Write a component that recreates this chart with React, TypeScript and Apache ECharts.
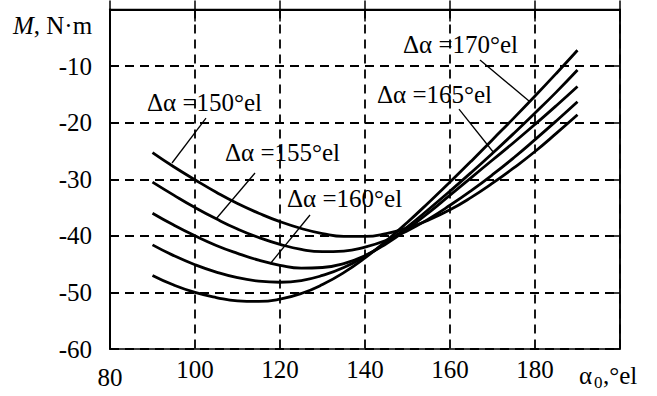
import React, { useEffect, useRef } from "react";
import * as echarts from "echarts";

const xValues = [90, 95, 100, 105, 110, 115, 120, 125, 130, 135, 140, 145, 150, 155, 160, 165, 170, 175, 180, 185, 190];
const curve150 = [-25.3, -27.8, -30.1, -32.3, -34.3, -36.0, -37.5, -38.7, -39.6, -40.1, -40.1, -39.6, -38.6, -37.2, -35.4, -33.2, -30.7, -28.0, -25.1, -21.9, -18.6];
const curve155 = [-30.5, -32.8, -35.0, -37.0, -38.8, -40.3, -41.5, -42.4, -42.8, -42.7, -42.0, -40.8, -39.1, -37.0, -34.6, -32.0, -29.2, -26.2, -23.0, -19.7, -16.3];
const curve160 = [-36.0, -38.1, -40.0, -41.7, -43.1, -44.3, -45.2, -45.7, -45.6, -44.9, -43.5, -41.4, -38.8, -35.9, -32.8, -29.7, -26.6, -23.5, -20.3, -17.0, -13.6];
const curve165 = [-41.6, -43.5, -45.1, -46.4, -47.4, -48.0, -48.2, -47.9, -47.0, -45.6, -43.6, -41.2, -38.4, -35.3, -32.1, -28.8, -25.4, -21.9, -18.3, -14.6, -10.7];
const curve170 = [-47.0, -48.7, -50.0, -50.9, -51.5, -51.6, -51.2, -50.2, -48.6, -46.5, -43.9, -40.9, -37.6, -34.1, -30.5, -26.8, -23.0, -19.2, -15.3, -11.3, -7.2];
const seriesList = [curve150, curve155, curve160, curve165, curve170];

const xTickLabels = ["80", "100", "120", "140", "160", "180"];
const yTickLabels = ["-60", "-50", "-40", "-30", "-20", "-10"];

const labelTexts = ["Δα =150°el", "Δα =155°el", "Δα =160°el", "Δα =165°el", "Δα =170°el"];
// label anchor (left-middle) in data coords
const labelAnchors = [
  [88.7, -16.35],
  [107.06, -25.19],
  [121.65, -33.49],
  [142.82, -15.11],
  [148.94, -6.27],
];
// leader lines in data coords [from, to]
const leaders = [
  [[102.59, -19.18], [94.59, -27.13]],
  [[114.12, -28.9], [104.94, -37.03]],
  [[127.06, -36.32], [117.65, -44.98]],
  [[162.12, -17.59], [170.35, -25.36]],
  [[167.06, -8.93], [178.59, -16.17]],
];

const FONT = "Liberation Serif";
const FS = 25;

export default function App() {
  const ref = useRef<HTMLDivElement>(null);
  useEffect(() => {
    const chart = echarts.init(ref.current!, undefined, { renderer: "svg" });
    const gridLine = { show: true, lineStyle: { color: "#000", width: 1.8, type: [9, 6] as any } };
    const option: any = {
      animation: false,
      textStyle: { fontFamily: FONT },
      grid: {
        left: 110,
        right: 37,
        top: 9.5,
        bottom: 47,
        show: true,
        borderColor: "#000",
        borderWidth: 1.5,
        backgroundColor: "transparent",
      },
      xAxis: [
        {
          type: "value",
          min: 80,
          max: 200,
          interval: 20,
          position: "bottom",
          axisLine: { show: true, lineStyle: { color: "#000", width: 2 } },
          axisTick: { show: true, inside: true, length: 9, lineStyle: { color: "#000", width: 1.5 } },
          axisLabel: {
            color: "#000",
            fontFamily: FONT,
            fontSize: FS,
            margin: 8,
            formatter: (v: number) => {
              const s = String(v);
              if (!xTickLabels.includes(s)) return "";
              return s === "80" ? "{low|" + s + "}" : s;
            },
            rich: { low: { fontFamily: FONT, fontSize: FS, color: "#000", padding: [8, 0, 0, 0] } },
          },
          splitLine: gridLine,
        },
        {
          type: "value",
          min: 80,
          max: 200,
          interval: 20,
          position: "top",
          axisLine: { show: true, lineStyle: { color: "#000", width: 1.5 } },
          axisTick: { show: true, inside: true, length: 12, lineStyle: { color: "#000", width: 1.5 } },
          axisLabel: { show: false },
          splitLine: { show: false },
        },
      ],
      yAxis: [
        {
          type: "value",
          min: -60,
          max: 0,
          interval: 10,
          position: "left",
          axisLine: { show: true, lineStyle: { color: "#000", width: 2 } },
          axisTick: { show: true, inside: true, length: 9, lineStyle: { color: "#000", width: 1.5 } },
          axisLabel: {
            color: "#000",
            fontFamily: FONT,
            fontSize: FS,
            margin: 18,
            formatter: (v: number) => (yTickLabels.includes(String(v)) ? String(v) : ""),
          },
          splitLine: gridLine,
        },
        {
          type: "value",
          min: -60,
          max: 0,
          interval: 10,
          position: "right",
          axisLine: { show: true, lineStyle: { color: "#000", width: 1.5 } },
          axisTick: { show: true, inside: true, length: 9, lineStyle: { color: "#000", width: 1.5 } },
          axisLabel: { show: false },
          splitLine: { show: false },
        },
      ],
      series: seriesList.map((vals) => ({
        type: "line",
        xAxisIndex: 0,
        yAxisIndex: 0,
        data: xValues.map((x, i) => [x, vals[i]]),
        smooth: true,
        showSymbol: false,
        symbol: "none",
        lineStyle: { color: "#000", width: 2.8 },
      })),
    };
    chart.setOption(option);

    const px = (p: number[]) => chart.convertToPixel({ xAxisIndex: 0, yAxisIndex: 0 }, p) as number[];
    const graphics: any[] = [];
    labelTexts.forEach((t, i) => {
      const [x, y] = px(labelAnchors[i]);
      graphics.push({
        type: "text",
        x,
        y,
        style: { text: t, fill: "#000", fontFamily: FONT, fontSize: FS, verticalAlign: "middle", align: "left" },
        z: 10,
      });
      const a = px(leaders[i][0]);
      const b = px(leaders[i][1]);
      graphics.push({
        type: "line",
        shape: { x1: a[0], y1: a[1], x2: b[0], y2: b[1] },
        style: { stroke: "#000", lineWidth: 1.3 },
        z: 10,
      });
    });
    // y axis name
    graphics.push({
      type: "text",
      x: 13,
      y: 25,
      style: {
        text: "{i|M}, N·m",
        fill: "#000",
        fontFamily: FONT,
        fontSize: FS,
        verticalAlign: "middle",
        rich: { i: { fontStyle: "italic", fontFamily: FONT, fontSize: FS, fill: "#000" } },
      },
    });
    // x axis name
    graphics.push({
      type: "text",
      x: 579,
      y: 375,
      style: { text: "α", fill: "#000", fontFamily: FONT, fontSize: FS, verticalAlign: "middle" },
    });
    graphics.push({
      type: "text",
      x: 594,
      y: 382,
      style: { text: "0", fill: "#000", fontFamily: FONT, fontSize: 17, verticalAlign: "middle" },
    });
    graphics.push({
      type: "text",
      x: 603,
      y: 375,
      style: { text: ",°el", fill: "#000", fontFamily: FONT, fontSize: FS, verticalAlign: "middle" },
    });
    chart.setOption({ graphic: graphics });
    return () => chart.dispose();
  }, []);
  return <div ref={ref} style={{ width: 657, height: 396, position: "absolute", left: 0, top: 0 }} />;
}
